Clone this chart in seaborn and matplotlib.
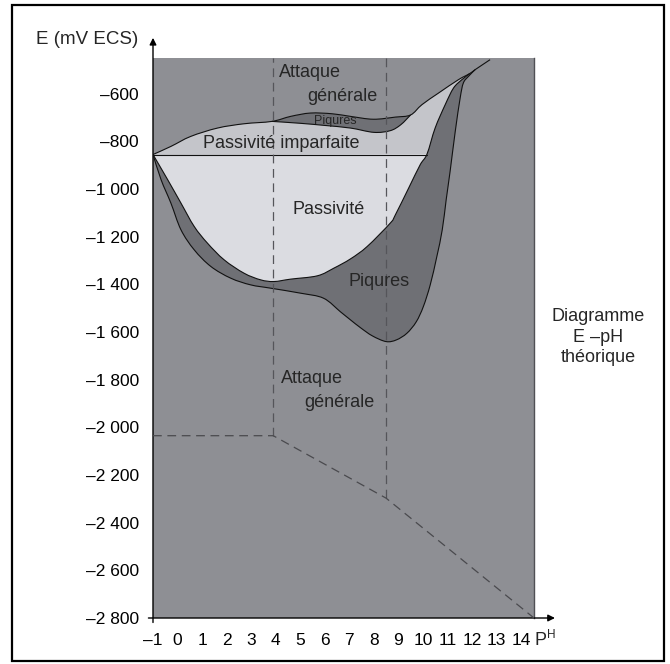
import matplotlib
matplotlib.use("Agg")
import matplotlib.pyplot as plt
import seaborn as sns
from matplotlib.patches import Rectangle, PathPatch
from matplotlib.path import Path

# --- axis ticks -----------------------------------------------------------
ph_ticks = list(range(-1, 15))
e_ticks = [-600, -800, -1000, -1200, -1400, -1600, -1800, -2000,
           -2200, -2400, -2600, -2800]

# --- domain boundaries (pH, E in mV/ECS) ----------------------------------
# upper limit of passivity; above it: general attack
upper_ph = [-1, -0.27, 0.54, 1.63, 2.71, 3.85, 4.61, 5.42, 6.3, 7.05, 7.98,
            8.88, 9.5, 9.96, 10.64, 11.45, 11.9, 12.13, 12.74]
upper_e = [-855, -821, -779, -744, -726, -716, -695, -681, -684, -695, -707,
           -698, -689, -646, -597, -541, -516, -499, -457]

# lower edge of the small pitting lens under the upper limit
lens_ph = [3.85, 5.0, 6.0, 7.05, 8.0, 8.67, 9.1, 9.5]
lens_e = [-716, -724, -733, -744, -762, -755, -730, -689]

# limit of the passive domain (inner edge of the pitting band)
inner_ph = [-1, -0.4, 0.14, 0.68, 1.22, 1.9, 2.71, 3.39, 3.93, 4.61, 5.7,
            6.37, 7.05, 7.73, 8.67, 8.88, 9.42, 9.89, 10.17, 10.5, 10.91,
            11.25, 11.59, 11.9]
inner_e = [-855, -961, -1059, -1157, -1227, -1297, -1353, -1381, -1388, -1378,
           -1364, -1332, -1293, -1241, -1143, -1108, -996, -898, -853, -744,
           -646, -576, -541, -516]

# outer edge of the pitting band
outer_ph = [-1, -0.67, -0.27, 0.14, 0.68, 1.36, 2.17, 2.98, 3.8, 5.02, 5.95,
            6.64, 7.05, 7.46, 7.94, 8.5, 8.92, 9.35, 9.73, 10.02, 10.3, 10.57,
            10.79, 10.95, 11.11, 11.32, 11.52, 11.65, 11.86, 12.13]
outer_e = [-855, -961, -1059, -1171, -1255, -1325, -1374, -1402, -1416, -1437,
           -1458, -1515, -1549, -1582, -1616, -1640, -1633, -1605, -1557,
           -1493, -1402, -1283, -1171, -1045, -926, -758, -618, -555, -527,
           -499]

# imperfect passivity / passivity separation
imperfect_e = -855
imperfect_ph_end = 10.17

# theoretical E-pH stability lines (dashed)
vert_ph = [3.9, 8.5]
vert_e_low = [-2035, -2297]
stab_ph = [-1, 3.9, 8.5, 14.53]
stab_e = [-2035, -2035, -2297, -2800]

# --- colours ---------------------------------------------------------------
c_general = "#8e8f94"
c_pits = "#6f7075"
c_imperfect = "#c4c5ca"
c_passive = "#dbdce1"
c_edge = "#111111"


def segments(xs, ys):
    """Cubic Bezier pieces of a smooth (Catmull-Rom) curve through the points."""
    pts = list(zip(xs, ys))
    n = len(pts)
    segs = []
    for i in range(n - 1):
        p0 = pts[max(i - 1, 0)]
        p1, p2 = pts[i], pts[i + 1]
        p3 = pts[min(i + 2, n - 1)]
        c1 = (p1[0] + (p2[0] - p0[0]) / 6, p1[1] + (p2[1] - p0[1]) / 6)
        c2 = (p2[0] - (p3[0] - p1[0]) / 6, p2[1] - (p3[1] - p1[1]) / 6)
        segs.append((p1, c1, c2, p2))
    return segs


def piece(segs, i0, i1):
    """Bezier pieces between point indices i0 and i1 (either direction)."""
    if i1 >= i0:
        return segs[i0:i1]
    return [(s[3], s[2], s[1], s[0]) for s in reversed(segs[i1:i0])]


def build_path(pieces, close=True):
    verts, codes = [], []
    for k, segs in enumerate(pieces):
        start = segs[0][0]
        verts.append(start)
        codes.append(Path.MOVETO if k == 0 else Path.LINETO)
        for s in segs:
            verts += [s[1], s[2], s[3]]
            codes += [Path.CURVE4] * 3
    if close:
        verts.append(verts[0])
        codes.append(Path.CLOSEPOLY)
    return Path(verts, codes)


up_s = segments(upper_ph, upper_e)
lens_s = segments(lens_ph, lens_e)
in_s = segments(inner_ph, inner_e)
out_s = segments(outer_ph, outer_e)

i_up_join = upper_ph.index(11.9)
i_up_out = upper_ph.index(12.13)
i_up_l0 = upper_ph.index(3.85)
i_up_l1 = upper_ph.index(9.5)
i_in_line = inner_ph.index(imperfect_ph_end)
i_in_end = len(inner_ph) - 1

sns.set_theme(style="white")
plt.rcParams["font.family"] = ["Liberation Sans", "DejaVu Sans"]

fig = plt.figure(figsize=(6.7, 6.64), dpi=100)
ax = fig.add_axes([153 / 670, 1 - 618 / 664, (534 - 153) / 670, (618 - 58) / 664])
ax.set_xlim(-1, 14.53)
ax.set_ylim(-2800, -450)
ax.set_facecolor(c_general)

# imperfect passivity: between the upper limit and the -855 mV line
p = build_path([piece(up_s, 0, i_up_join), piece(in_s, i_in_end, i_in_line)])
ax.add_patch(PathPatch(p, fc=c_imperfect, lw=0, zorder=1))

# pitting band
p = build_path([piece(out_s, 0, len(outer_ph) - 1),
                piece(up_s, i_up_out, i_up_join),
                piece(in_s, i_in_end, 0)])
ax.add_patch(PathPatch(p, fc=c_pits, lw=0, zorder=2))

# passivity
p = build_path([piece(in_s, 0, i_in_line)])
ax.add_patch(PathPatch(p, fc=c_passive, lw=0, zorder=3))

# pitting lens
p = build_path([piece(up_s, i_up_l0, i_up_l1), piece(lens_s, len(lens_ph) - 1, 0)])
ax.add_patch(PathPatch(p, fc=c_pits, lw=0, zorder=3))

# boundary outlines
for segs in (up_s, lens_s, in_s, out_s):
    ax.add_patch(PathPatch(build_path([segs], close=False), fill=False,
                           ec=c_edge, lw=0.8, zorder=5))
sns.lineplot(x=[-1, imperfect_ph_end], y=[imperfect_e, imperfect_e],
             sort=False, estimator=None, color=c_edge, lw=0.8, ax=ax, zorder=5)

# dashed stability lines
dash = (0, (7, 4.5))
for ph, e in zip(vert_ph, vert_e_low):
    sns.lineplot(x=[ph, ph], y=[e, -450], sort=False, estimator=None,
                 color="#55555a", lw=0.9, linestyle=dash, ax=ax, zorder=6)
sns.lineplot(x=stab_ph, y=stab_e, sort=False, estimator=None,
             color="#4a4a4e", lw=0.9, linestyle=dash, ax=ax, zorder=6)

# domain labels
fs = 13
ax.text(5.38, -512, "Attaque", ha="center", va="center", fontsize=fs, zorder=7)
ax.text(6.72, -613, "générale", ha="center", va="center", fontsize=fs, zorder=7)
ax.text(6.44, -713, "Piqures", ha="center", va="center", fontsize=9, zorder=7)
ax.text(4.24, -810, "Passivité imparfaite", ha="center", va="center", fontsize=fs, zorder=7)
ax.text(6.17, -1087, "Passivité", ha="center", va="center", fontsize=fs, zorder=7)
ax.text(8.23, -1389, "Piqures", ha="center", va="center", fontsize=fs, zorder=7)
ax.text(5.5, -1796, "Attaque", ha="center", va="center", fontsize=fs, zorder=7)
ax.text(6.6, -1897, "générale", ha="center", va="center", fontsize=fs, zorder=7)

# ticks
ax.set_xticks(ph_ticks)
ax.set_xticklabels([("–%d" % -v) if v < 0 else str(v) for v in ph_ticks])
ax.set_yticks(e_ticks)


def fmt(v):
    a = -v
    s = str(a) if a < 1000 else "%d %03d" % (a // 1000, a % 1000)
    return "–" + s


ax.set_yticklabels([fmt(v) for v in e_ticks])
ax.tick_params(axis="both", length=0, labelsize=12.5, colors="black")
ax.tick_params(axis="y", pad=10)
ax.tick_params(axis="x", pad=11)
for side in ["top", "left", "bottom"]:
    ax.spines[side].set_visible(False)
ax.spines["right"].set_color("#505055")
ax.spines["right"].set_linewidth(1.0)

# axis arrows
ax.annotate("", xy=(0, 1.036), xytext=(0, -0.008), xycoords="axes fraction",
            arrowprops=dict(arrowstyle="-|>", lw=1.0, color="black",
                            mutation_scale=10, shrinkA=0, shrinkB=0),
            annotation_clip=False)
ax.annotate("", xy=(1.055, 0), xytext=(-0.012, 0), xycoords="axes fraction",
            arrowprops=dict(arrowstyle="-|>", lw=1.0, color="black",
                            mutation_scale=10, shrinkA=0, shrinkB=0),
            annotation_clip=False)

# axis titles and caption
fig.text(138 / 670, 1 - 40 / 664, "E (mV ECS)", ha="right", va="center", fontsize=13.5)
fig.text(535 / 670, 1 - 645 / 664, "P", ha="left", va="baseline", fontsize=13)
fig.text(547 / 670, 1 - 638 / 664, "H", ha="left", va="baseline", fontsize=8.5)
fig.text(598 / 670, 1 - 337 / 664, "Diagramme\nE –pH\nthéorique", ha="center",
         va="center", fontsize=13, linespacing=1.25)

# page frame
fig.add_artist(Rectangle((12 / 670, 1 - 661 / 664), (664 - 12) / 670, (661 - 5) / 664,
                         transform=fig.transFigure, fill=False, lw=1.6,
                         ec="black"))

fig.savefig("out.png", dpi=100, facecolor="white")
